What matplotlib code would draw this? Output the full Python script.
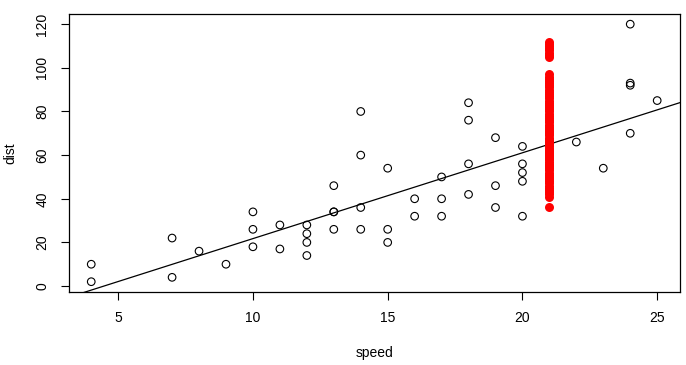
import numpy as np
import matplotlib.pyplot as plt

# cars data (speed vs stopping distance)
speed = [4, 4, 7, 7, 8, 9, 10, 10, 10, 11, 11, 12, 12, 12, 12, 13, 13, 13, 13, 14,
         14, 14, 14, 15, 15, 15, 16, 16, 17, 17, 17, 18, 18, 18, 18, 19, 19, 19, 20, 20,
         20, 20, 20, 22, 23, 24, 24, 24, 24, 25]
dist = [2, 10, 4, 22, 16, 10, 18, 26, 34, 17, 28, 14, 20, 24, 28, 26, 34, 34, 46, 26,
        36, 60, 80, 20, 26, 54, 32, 40, 32, 40, 50, 42, 56, 76, 84, 36, 46, 68, 32, 48,
        52, 56, 64, 66, 54, 70, 92, 93, 120, 85]

# simulated distances at speed 21
pred_speed = 21
pred_dist = [36, 41, 42, 43, 44, 45, 46, 47, 48, 49, 50, 51, 52, 53, 54, 55, 55, 56,
             57, 58, 58, 59, 60, 61, 61, 62, 63, 63, 64, 65, 65, 66, 67, 67, 68, 69,
             70, 70, 71, 72, 73, 74, 75, 76, 77, 78, 79, 80, 81, 82, 83, 84, 85, 86,
             87, 88, 89, 90, 91, 92, 93, 94, 95, 96, 97, 105, 106, 107, 108, 109, 110,
             111, 112]

fit = np.polyfit(speed, dist, 1)

plt.rcParams['font.family'] = ['Liberation Sans', 'DejaVu Sans']
fig, ax = plt.subplots(figsize=(6.86, 3.65), dpi=100)
fig.subplots_adjust(left=0.1, right=0.991, top=0.962, bottom=0.2)

ax.scatter(speed, dist, s=30, facecolors='none', edgecolors='black', linewidths=0.8, zorder=3)
ax.scatter([pred_speed] * len(pred_dist), pred_dist, s=42, color='red', linewidths=0, zorder=4)

xl = (3.16, 25.84)
ax.plot(xl, np.polyval(fit, xl), color='black', linewidth=0.9, zorder=2)
ax.set_xlim(xl)
ax.set_ylim(-2.72, 124.72)
ax.set_xticks([5, 10, 15, 20, 25])
ax.set_yticks([0, 20, 40, 60, 80, 100, 120])
ax.set_yticklabels(['0', '20', '40', '60', '80', '100', '120'], rotation=90, va='center')
ax.tick_params(labelsize=10, length=6, width=0.8, pad=8)
ax.set_xlabel('speed', fontsize=10, labelpad=15)
ax.set_ylabel('dist', fontsize=10, labelpad=13)
for s in ax.spines.values():
    s.set_linewidth(0.9)

plt.savefig('out.png', dpi=100)
